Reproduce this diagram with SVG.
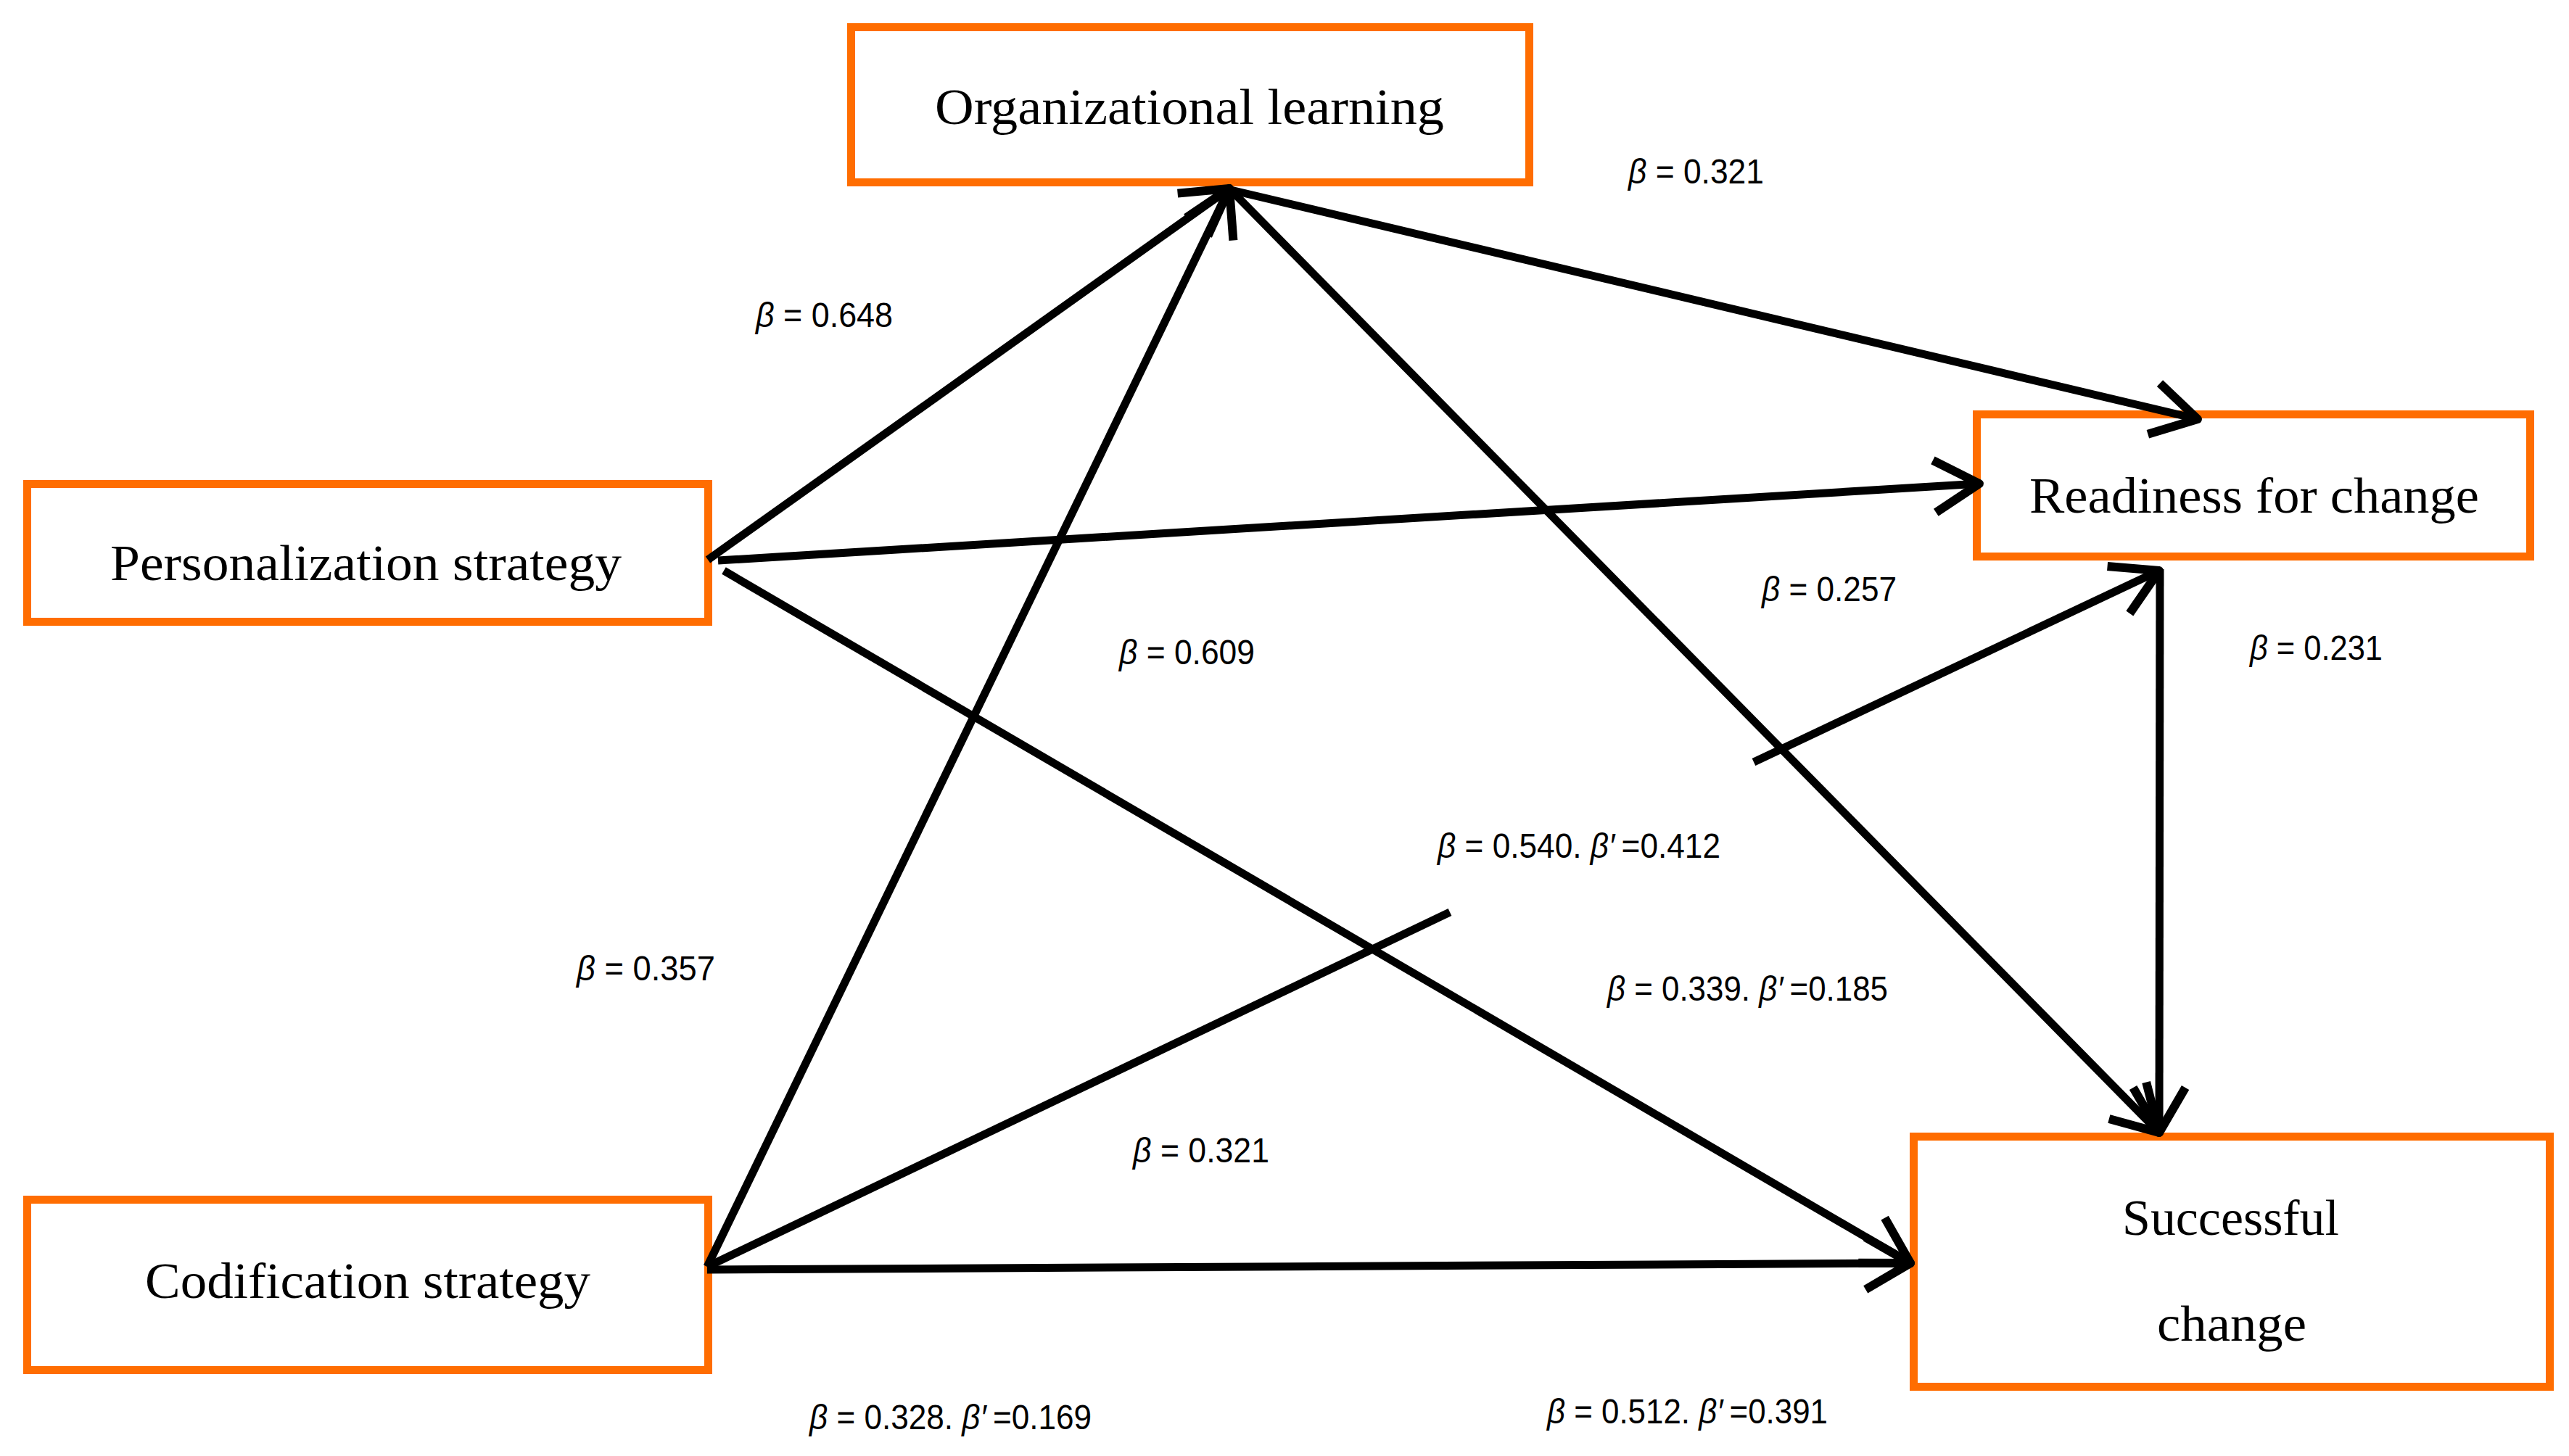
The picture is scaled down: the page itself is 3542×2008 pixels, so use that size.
<svg xmlns="http://www.w3.org/2000/svg" width="3542" height="2008" viewBox="0 0 3542 2008">
  <style>
    .box { fill: #ffffff; stroke: #FF6D01; stroke-width: 11; }
    .node-text { font-family: "Liberation Serif", "DejaVu Serif", serif; font-size: 70px; fill: #000000; }
    .label { font-family: "Liberation Sans", Arial, sans-serif; font-size: 48px; fill: #000000; }
    .b { font-style: italic; }
    .edge { fill: none; stroke: #000000; stroke-width: 11; }
    .head { fill: none; stroke: #000000; stroke-width: 12; stroke-linejoin: round; stroke-linecap: butt; }
  </style>
  <defs>
    <marker id="arrow" markerUnits="userSpaceOnUse" viewBox="-80 -50 100 100" refX="0" refY="0" markerWidth="100" markerHeight="100" orient="auto" overflow="visible">
      <path class="head" d="M-62,-36 L0,0 L-62,36"/>
    </marker>
  </defs>
  <rect width="3542" height="2008" fill="#ffffff"/>

  <g id="organizational-learning">
    <rect class="box" x="1173.5" y="37.5" width="935" height="214"/>
    <text class="node-text" x="1289" y="171" textLength="702" lengthAdjust="spacingAndGlyphs">Organizational learning</text>
  </g>
  <g id="personalization-strategy">
    <rect class="box" x="37.5" y="667.5" width="939" height="190"/>
    <text class="node-text" x="152" y="800" textLength="705" lengthAdjust="spacingAndGlyphs">Personalization strategy</text>
  </g>
  <g id="readiness-for-change">
    <rect class="box" x="2725.5" y="571.5" width="763" height="196"/>
    <text class="node-text" x="2798" y="707" textLength="620" lengthAdjust="spacingAndGlyphs">Readiness for change</text>
  </g>
  <g id="codification-strategy">
    <rect class="box" x="37.5" y="1654.5" width="939" height="235"/>
    <text class="node-text" x="200" y="1790" textLength="614" lengthAdjust="spacingAndGlyphs">Codification strategy</text>
  </g>
  <g id="successful-change">
    <rect class="box" x="2638.5" y="1567.5" width="877" height="345"/>
    <text class="node-text" x="2926" y="1703" textLength="299" lengthAdjust="spacingAndGlyphs">Successful</text>
    <text class="node-text" x="2974" y="1849" textLength="206" lengthAdjust="spacingAndGlyphs">change</text>
  </g>

  <g id="connectors">
    <line class="edge" x1="976" y1="772" x2="1695" y2="260" marker-end="url(#arrow)"/>
    <line class="edge" x1="975" y1="1747" x2="1695" y2="260" marker-end="url(#arrow)"/>
    <line class="edge" x1="1697" y1="262" x2="3030" y2="578" marker-end="url(#arrow)"/>
    <line class="edge" x1="1697" y1="262" x2="2977" y2="1562" marker-end="url(#arrow)"/>
    <line class="edge" x1="990" y1="773" x2="2729" y2="667" marker-end="url(#arrow)"/>
    <line class="edge" x1="998" y1="787" x2="2634" y2="1742" marker-end="url(#arrow)"/>
    <line class="edge" x1="975" y1="1751" x2="2634" y2="1742" marker-end="url(#arrow)"/>
    <line class="edge" x1="975" y1="1747" x2="1999" y2="1258"/>
    <line class="edge" x1="2418" y1="1051" x2="2977" y2="787" marker-end="url(#arrow)"/>
    <line class="edge" x1="2978" y1="785" x2="2977" y2="1562" marker-end="url(#arrow)"/>
  </g>

  <g id="labels">
    <text class="label" x="2245" y="253" textLength="187" lengthAdjust="spacingAndGlyphs"><tspan class="b">β</tspan> = 0.321</text>
    <text class="label" x="1042" y="451" textLength="189" lengthAdjust="spacingAndGlyphs"><tspan class="b">β</tspan> = 0.648</text>
    <text class="label" x="2429" y="829" textLength="186" lengthAdjust="spacingAndGlyphs"><tspan class="b">β</tspan> = 0.257</text>
    <text class="label" x="1543" y="916" textLength="187" lengthAdjust="spacingAndGlyphs"><tspan class="b">β</tspan> = 0.609</text>
    <text class="label" x="3102" y="910" textLength="183" lengthAdjust="spacingAndGlyphs"><tspan class="b">β</tspan> = 0.231</text>
    <text class="label" x="1982" y="1183" textLength="390" lengthAdjust="spacingAndGlyphs"><tspan class="b">β</tspan> = 0.540. <tspan class="b">β′</tspan><tspan dx="10">=0.412</tspan></text>
    <text class="label" x="795" y="1352" textLength="191" lengthAdjust="spacingAndGlyphs"><tspan class="b">β</tspan> = 0.357</text>
    <text class="label" x="2216" y="1380" textLength="387" lengthAdjust="spacingAndGlyphs"><tspan class="b">β</tspan> = 0.339. <tspan class="b">β′</tspan><tspan dx="10">=0.185</tspan></text>
    <text class="label" x="1562" y="1603" textLength="188" lengthAdjust="spacingAndGlyphs"><tspan class="b">β</tspan> = 0.321</text>
    <text class="label" x="1116" y="1971" textLength="389" lengthAdjust="spacingAndGlyphs"><tspan class="b">β</tspan> = 0.328. <tspan class="b">β′</tspan><tspan dx="10">=0.169</tspan></text>
    <text class="label" x="2133" y="1963" textLength="387" lengthAdjust="spacingAndGlyphs"><tspan class="b">β</tspan> = 0.512. <tspan class="b">β′</tspan><tspan dx="10">=0.391</tspan></text>
  </g>
</svg>
